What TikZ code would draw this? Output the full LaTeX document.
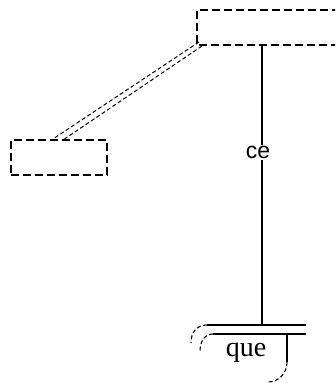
\documentclass[tikz,border=0pt]{standalone}
\usepackage{fontspec}
\setmainfont{Liberation Serif}
\newfontfamily\cefont{Liberation Sans}
\begin{document}
\begin{tikzpicture}[x=1pt,y=-1pt,
  dbox/.style={line width=1.2pt,dash pattern=on 8pt off 4pt},
  thin dash/.style={line width=1pt,dash pattern=on 4pt off 2.5pt},
  solidline/.style={line width=1.2pt},
  arcdash/.style={line width=1.1pt,dash pattern=on 4pt off 2.5pt}]
\useasboundingbox (0,0) rectangle (335,383);
\clip (0,0) rectangle (335,383);
% top box (open to the right edge)
\coordinate (tl) at (197,10);
\coordinate (bl) at (197,45);
\draw[dbox] (340,10) -- (tl) -- (bl) -- (340,45);
% left box
\node[draw,dbox,minimum width=96pt,minimum height=35pt,inner sep=0pt] (lbox) at (59,157.5) {};
% double dashed connector
\coordinate (a1) at (199,42);
\coordinate (b1) at (53,139);
\coordinate (a2) at (202,46);
\coordinate (b2) at (63,140);
\draw[thin dash] (a1) -- (b1);
\draw[thin dash] (a2) -- (b2);
% vertical line with label
\coordinate (vtop) at (262,45);
\coordinate (vbot) at (262,325);
\node[font=\cefont\fontsize{23}{23}\selectfont,inner sep=1pt] (ce) at (258,152) {ce};
\draw[solidline] (vtop) -- (ce.north -| vtop);
\draw[solidline] (ce.south -| vtop) -- (vbot);
% bottom structure
\coordinate (o1) at (207,325);
\coordinate (o2) at (306,325);
\coordinate (i1) at (213,334);
\coordinate (i2) at (306,334);
\draw[solidline] (o1) -- (o2);
\draw[solidline] (i1) -- (i2);
\draw[arcdash] (o1) .. controls (196,325) and (191,333) .. (191,343);
\draw[arcdash] (i1) .. controls (204,334) and (200,342) .. (200,352);
\coordinate (r1) at (287,334);
\coordinate (r2) at (287,362);
\draw[solidline] (r1) -- (r2);
\draw[arcdash] (r2) .. controls (287,374) and (278,382) .. (268,382);
\node[font=\fontsize{28}{28}\selectfont,inner sep=0pt,anchor=base] (que) at (246,356) {que};
\end{tikzpicture}
\end{document}
